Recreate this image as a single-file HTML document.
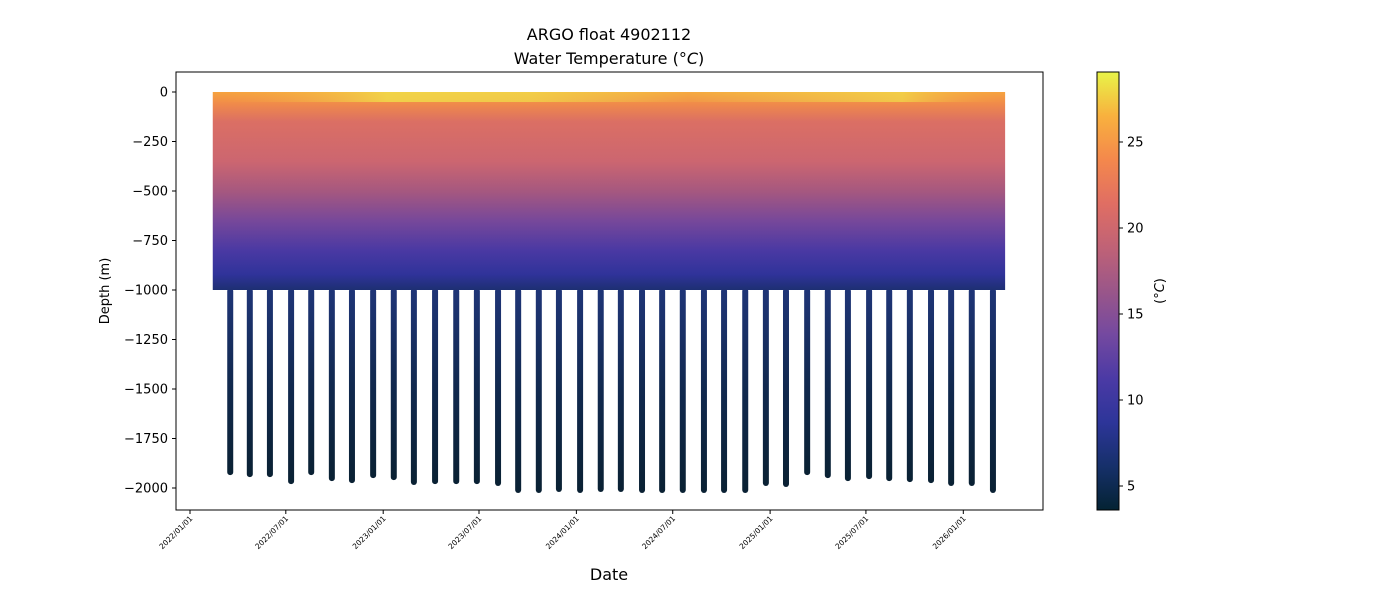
<!DOCTYPE html>
<html><head><meta charset="utf-8"><style>
body{margin:0;background:#fff;font-family:"DejaVu Sans","Liberation Sans",sans-serif}
</style></head><body>
<svg id="chart" width="1400" height="600" xmlns="http://www.w3.org/2000/svg" font-family="DejaVu Sans, Liberation Sans, sans-serif">
<defs>
<linearGradient id="shallowGrad" x1="0" y1="0" x2="0" y2="1">
<stop offset="0" stop-color="#f6a33e"/>
<stop offset="0.06" stop-color="#f08a4a"/>
<stop offset="0.15" stop-color="#db6f64"/>
<stop offset="0.35" stop-color="#cc6670"/>
<stop offset="0.5" stop-color="#a6587f"/>
<stop offset="0.65" stop-color="#77489a"/>
<stop offset="0.8" stop-color="#4a39a3"/>
<stop offset="0.92" stop-color="#30339a"/>
<stop offset="1" stop-color="#1d2f72"/>
</linearGradient>
<linearGradient id="deepGrad" x1="0" y1="0" x2="0" y2="1">
<stop offset="0" stop-color="#1f3578"/>
<stop offset="0.5" stop-color="#11294f"/>
<stop offset="1" stop-color="#0a2133"/>
</linearGradient>
<linearGradient id="cbarGrad" x1="0" y1="1" x2="0" y2="0">
<stop offset="0" stop-color="#042333"/>
<stop offset="0.1" stop-color="#16306a"/>
<stop offset="0.2" stop-color="#2d3599"/>
<stop offset="0.3" stop-color="#4b3aa5"/>
<stop offset="0.4" stop-color="#7449a0"/>
<stop offset="0.5" stop-color="#9a5689"/>
<stop offset="0.6" stop-color="#c06276"/>
<stop offset="0.7" stop-color="#e06e63"/>
<stop offset="0.8" stop-color="#f4884c"/>
<stop offset="0.9" stop-color="#f8b13e"/>
<stop offset="1" stop-color="#e8f448"/>
</linearGradient>
<linearGradient id="surfGrad" x1="0" y1="0" x2="1" y2="0">
<stop offset="0" stop-color="#f8a040" stop-opacity="0"/>
<stop offset="0.22" stop-color="#f0e04a" stop-opacity="0.8"/>
<stop offset="0.4" stop-color="#f0e04a" stop-opacity="0.7"/>
<stop offset="0.6" stop-color="#f0e04a" stop-opacity="0.1"/>
<stop offset="0.87" stop-color="#f0e04a" stop-opacity="0.7"/>
<stop offset="1" stop-color="#f8a040" stop-opacity="0"/>
</linearGradient>
</defs>
<text x="609" y="40" font-size="16" text-anchor="middle">ARGO float 4902112</text>
<text x="609" y="64" font-size="16" text-anchor="middle">Water Temperature (<tspan font-style="italic">°C</tspan>)</text>
<g id="plot"></g>
<rect x="176" y="72" width="867" height="438" fill="none" stroke="#000" stroke-width="1"/>
<g id="yaxis"></g>
<g id="xaxis"></g>
<text transform="translate(109,291) rotate(-90)" font-size="13" text-anchor="middle">Depth (m)</text>
<text x="609" y="580" font-size="16" text-anchor="middle">Date</text>
<rect x="1097" y="72" width="22" height="438" fill="url(#cbarGrad)" stroke="#000" stroke-width="1"/>
<g id="cbaxis"></g>
<text transform="translate(1164,291) rotate(-90)" font-size="13" text-anchor="middle">(<tspan font-style="italic">°C</tspan>)</text>
</svg>
<script>
const deepDays=[76,113,151,191,229,268,306,346,385,423,463,503,542,582,620,659,697,737,776,814,854,892,931,971,1009,1049,1088,1126,1166,1205,1243,1283,1321,1360,1400,1438,1477,1517];
const deepDepths=[-1920,-1930,-1930,-1965,-1920,-1950,-1960,-1935,-1945,-1970,-1965,-1965,-1965,-1975,-2010,-2010,-2005,-2010,-2005,-2005,-2010,-2010,-2010,-2010,-2010,-2010,-1975,-1980,-1920,-1935,-1950,-1940,-1950,-1955,-1960,-1975,-1975,-2010];
const shallowRange=[43,1540];
const shallowDepth=[0,-1000];
const yTicks=[0,-250,-500,-750,-1000,-1250,-1500,-1750,-2000];
const xTickDays=[0,181,365,546,730,912,1096,1277,1461];
const xTickLabels=["2022/01/01","2022/07/01","2023/01/01","2023/07/01","2024/01/01","2024/07/01","2025/01/01","2025/07/01","2026/01/01"];
const cbTicks=[5,10,15,20,25];
const NS="http://www.w3.org/2000/svg";
const xs=d=>190+d*0.5293;
const ys=v=>92-v*0.198;
const cs=t=>486-(t-5)*17.2;
function mk(tag,attrs,parent){const e=document.createElementNS(NS,tag);for(const k in attrs)e.setAttribute(k,attrs[k]);parent.appendChild(e);return e;}
const plot=document.getElementById('plot');
deepDays.forEach((d,i)=>{
 const y0=ys(-990),y1=ys(deepDepths[i])+3;
 const l=mk('rect',{x:xs(d)-3,y:y0,width:6,height:y1-y0,rx:3,fill:'url(#deepGrad)'},plot);
 
 
});
const sh=mk('rect',{x:xs(shallowRange[0]),y:ys(shallowDepth[0]),width:xs(shallowRange[1])-xs(shallowRange[0]),height:ys(shallowDepth[1])-ys(shallowDepth[0]),fill:'url(#shallowGrad)'},plot);


const sf=mk('rect',{x:xs(shallowRange[0]),y:ys(0),width:xs(shallowRange[1])-xs(shallowRange[0]),height:10,fill:'url(#surfGrad)'},plot);


const ya=document.getElementById('yaxis');
yTicks.forEach(v=>{
 mk('line',{x1:172,x2:176,y1:ys(v),y2:ys(v),stroke:'#000'},ya);
 const t=mk('text',{x:168,y:ys(v)+4.5,'font-size':13,'text-anchor':'end'},ya);
 t.textContent=v===0?'0':'\u2212'+Math.abs(v);
 
 
});
const xa=document.getElementById('xaxis');
xTickDays.forEach((d,i)=>{
 mk('line',{x1:xs(d),x2:xs(d),y1:510,y2:514,stroke:'#000'},xa);
 const t=mk('text',{transform:`translate(${xs(d)+3},${519}) rotate(-45)`,'font-size':7.5,'text-anchor':'end'},xa);
 t.textContent=xTickLabels[i];
 
 
});
const cb=document.getElementById('cbaxis');
cbTicks.forEach(v=>{
 mk('line',{x1:1119,x2:1123,y1:cs(v),y2:cs(v),stroke:'#000'},cb);
 const t=mk('text',{x:1127,y:cs(v)+4.5,'font-size':13},cb);
 t.textContent=v;
 
 
});
</script>
</body></html>
